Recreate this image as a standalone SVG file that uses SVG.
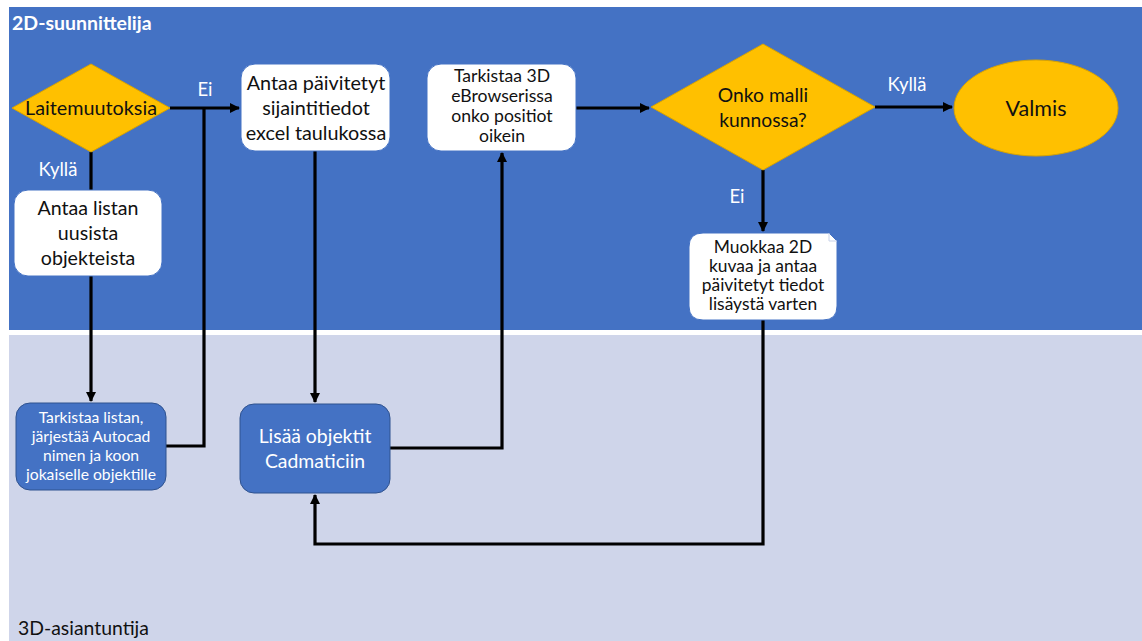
<svg xmlns="http://www.w3.org/2000/svg" width="1142" height="641" viewBox="0 0 1142 641">
<style>
text{font-family:Lato,"Open Sans","Liberation Sans",sans-serif;text-anchor:middle}
.dk{fill:#111}
.wt{fill:#fff}
.box{fill:#fff;stroke:#4472C4;stroke-width:1}
.bbox{fill:#4472C4;stroke:#2F528F;stroke-width:1}
.dia{fill:#FFC000;stroke:#D9A300;stroke-width:1}
.c{fill:none;stroke:#000;stroke-width:3.2}
.lbl{font-size:18.5px;fill:#fff}
</style>
<defs>
<marker id="ah" markerWidth="10" markerHeight="10" refX="9" refY="5" orient="auto" markerUnits="userSpaceOnUse" viewBox="0 0 10 10">
<path d="M0,0 L10,5 L0,10 z" fill="#000"/>
</marker>
</defs>
<rect x="0" y="0" width="1142" height="641" fill="#fff"/>
<g id="lane-2d">
<rect x="9" y="7" width="1133" height="323" fill="#4472C4"/>
<text x="12" y="30" style="text-anchor:start;font-size:19.5px;font-weight:bold" class="wt">2D-suunnittelija</text>
</g>
<g id="lane-3d">
<rect x="9" y="335" width="1133" height="306" fill="#CFD5EA"/>
<text x="18" y="635" style="text-anchor:start;font-size:19.4px" class="dk">3D-asiantuntija</text>
</g>
<g id="connectors">
<path class="c" d="M170,108 H239" marker-end="url(#ah)"/>
<path class="c" d="M166,446 H204 V108"/>
<path class="c" d="M91,152 V190"/>
<path class="c" d="M91,276 V401" marker-end="url(#ah)"/>
<path class="c" d="M315,151 V402" marker-end="url(#ah)"/>
<path class="c" d="M390,448 H502 V153" marker-end="url(#ah)"/>
<path class="c" d="M576,108 H649" marker-end="url(#ah)"/>
<path class="c" d="M875,107 H952" marker-end="url(#ah)"/>
<path class="c" d="M763,170 V231" marker-end="url(#ah)"/>
<path class="c" d="M763,320 V544 H315 V495" marker-end="url(#ah)"/>
<text x="205" y="96" class="lbl">Ei</text>
<text x="58" y="176" class="lbl">Kyllä</text>
<text x="907" y="91" class="lbl">Kyllä</text>
<text x="737" y="203" class="lbl">Ei</text>
</g>
<g id="n-laitemuutoksia">
<polygon class="dia" points="12,108 91,64 170,108 91,152"/>
<text x="91" y="115" style="font-size:19.8px" class="dk">Laitemuutoksia</text>
</g>
<g id="n-antaa-listan">
<rect class="box" x="14" y="190" width="148" height="86" rx="14"/>
<text style="font-size:19.6px" class="dk"><tspan x="88" y="215">Antaa listan</tspan><tspan x="88" y="240">uusista</tspan><tspan x="88" y="265">objekteista</tspan></text>
</g>
<g id="n-tarkistaa-listan">
<rect class="bbox" x="16" y="403" width="150" height="87" rx="14"/>
<text style="font-size:15.7px" class="wt"><tspan x="91" y="423">Tarkistaa listan,</tspan><tspan x="91" y="442">järjestää Autocad</tspan><tspan x="91" y="461">nimen ja koon</tspan><tspan x="91" y="480">jokaiselle objektille</tspan></text>
</g>
<g id="n-antaa-paivitetyt">
<rect class="box" x="241" y="64" width="149" height="87" rx="14"/>
<text style="font-size:19.8px" class="dk"><tspan x="316" y="90">Antaa päivitetyt</tspan><tspan x="316" y="115">sijaintitiedot</tspan><tspan x="316" y="140">excel taulukossa</tspan></text>
</g>
<g id="n-lisaa">
<rect class="bbox" x="240" y="404" width="150" height="89" rx="14"/>
<text style="font-size:19.4px" class="wt"><tspan x="315" y="443">Lisää objektit</tspan><tspan x="315" y="468">Cadmaticiin</tspan></text>
</g>
<g id="n-tarkistaa-3d">
<rect class="box" x="427" y="64" width="149" height="87" rx="14"/>
<text style="font-size:17.6px" class="dk"><tspan x="502" y="82">Tarkistaa 3D</tspan><tspan x="502" y="102">eBrowserissa</tspan><tspan x="502" y="122">onko positiot</tspan><tspan x="502" y="142">oikein</tspan></text>
</g>
<g id="n-onko">
<polygon class="dia" points="651,107 763,44 875,107 763,170"/>
<text style="font-size:19.3px" class="dk"><tspan x="763" y="102">Onko malli</tspan><tspan x="763" y="127">kunnossa?</tspan></text>
</g>
<g id="n-valmis">
<ellipse class="dia" cx="1036" cy="108" rx="82" ry="48"/>
<text x="1036" y="116" style="font-size:21.5px" class="dk">Valmis</text>
</g>
<g id="n-muokkaa">
<path class="box" d="M703,233 H829 L837,241 V306 Q837,320 823,320 H703 Q689,320 689,306 V247 Q689,233 703,233 Z"/>
<path d="M829,233 V241 H837" fill="none" stroke="#C9D3EA" stroke-width="1"/>
<text style="font-size:17.4px" class="dk"><tspan x="763" y="253">Muokkaa 2D</tspan><tspan x="763" y="272">kuvaa ja antaa</tspan><tspan x="763" y="291">päivitetyt tiedot</tspan><tspan x="763" y="310">lisäystä varten</tspan></text>
</g>
</svg>
